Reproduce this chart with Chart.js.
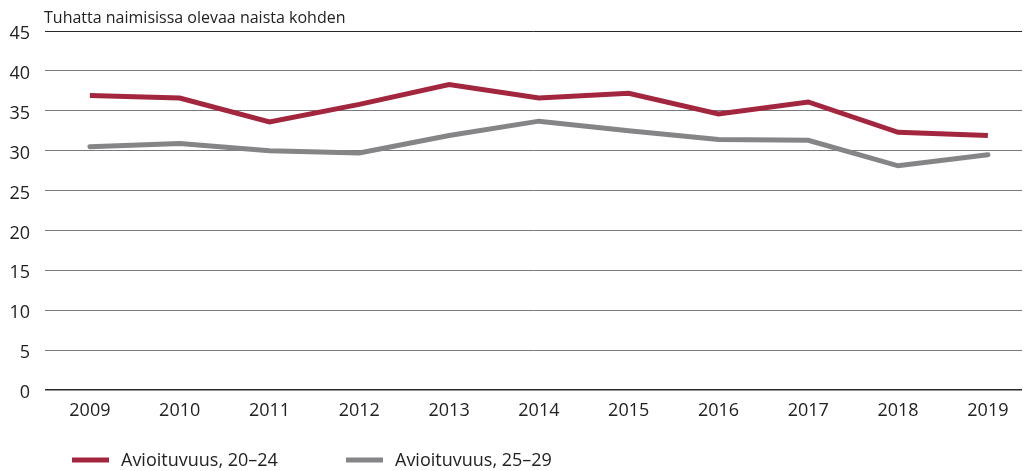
<!DOCTYPE html>
<html><head><meta charset="utf-8">
<script src="https://cdn.jsdelivr.net/npm/chart.js@4.4.1/dist/chart.umd.min.js"></script>
<style>html,body{margin:0;padding:0;background:#fff}#wrap{position:relative;width:1031px;height:471px}</style>
</head><body><div id="wrap"><canvas id="c" width="1031" height="471"></canvas></div>
<script>
const years = [2009, 2010, 2011, 2012, 2013, 2014, 2015, 2016, 2017, 2018, 2019];
const series20_24 = [36.9, 36.6, 33.6, 35.8, 38.3, 36.6, 37.2, 34.6, 36.1, 32.3, 31.9];
const series25_29 = [30.5, 30.9, 30.0, 29.7, 31.9, 33.7, 32.5, 31.4, 31.3, 28.1, 29.5];
const seriesNames = ['Avioituvuus, 20–24', 'Avioituvuus, 25–29'];
const yTitle = 'Tuhatta naimisissa olevaa naista kohden';
const colors = ['#a3263f', '#858588'];
const FONT = '"Open Sans", sans-serif';

const extras = {
  id: 'extras',
  afterDraw(chart) {
    const ctx = chart.ctx;
    ctx.save();
    ctx.fillStyle = '#222'; ctx.font = '16px ' + FONT; ctx.textBaseline = 'alphabetic'; ctx.textAlign = 'left';
    ctx.fillText(yTitle, 44, 23);
    ctx.font = '18px ' + FONT; ctx.textBaseline = 'middle';
    const lx = [72, 346];
    seriesNames.forEach((n, i) => {
      ctx.fillStyle = colors[i];
      ctx.fillRect(lx[i], 457.5, 37, 5);
      ctx.fillStyle = '#222';
      ctx.fillText(n, lx[i] + 49, 461);
    });
    ctx.restore();
  }
};

new Chart(document.getElementById('c'), {
  type: 'line',
  data: {
    datasets: [
      { label: seriesNames[0], data: years.map((x, i) => ({ x, y: series20_24[i] })), borderColor: colors[0], backgroundColor: colors[0], borderWidth: 5, pointRadius: 0, tension: 0, borderCapStyle: 'butt', borderJoinStyle: 'miter' },
      { label: seriesNames[1], data: years.map((x, i) => ({ x, y: series25_29[i] })), borderColor: colors[1], backgroundColor: colors[1], borderWidth: 5, pointRadius: 0, tension: 0, borderCapStyle: 'round', borderJoinStyle: 'miter' }
    ]
  },
  options: {
    responsive: false, animation: false, devicePixelRatio: 1,
    layout: { padding: { top: 31, right: 9, left: 0, bottom: 0 } },
    plugins: { legend: { display: false }, tooltip: { enabled: false } },
    scales: {
      x: {
        type: 'linear', min: 2008.5, max: 2019.38,
        afterBuildTicks(s) { s.ticks = years.map(v => ({ value: v })); },
        grid: { display: false, drawTicks: false },
        border: { display: false },
        ticks: { color: '#222', font: { family: FONT, size: 18 }, padding: 10, maxRotation: 0, autoSkip: false, callback: v => String(v) },
        afterFit(s) { s.height = 81; }
      },
      y: {
        min: 0, max: 45,
        grid: {
          color: c => (c.tick && (c.tick.value === 0 || c.tick.value === 45)) ? '#2a2a2a' : '#7a7a7a',
          lineWidth: c => (c.tick && c.tick.value === 0) ? 1.5 : 1,
          drawTicks: false
        },
        border: { display: false },
        ticks: { stepSize: 5, color: '#222', font: { family: FONT, size: 18 }, padding: 15, labelOffset: 3 },
        afterFit(s) { s.width = 45; }
      }
    }
  },
  plugins: [extras]
});
</script></body></html>
